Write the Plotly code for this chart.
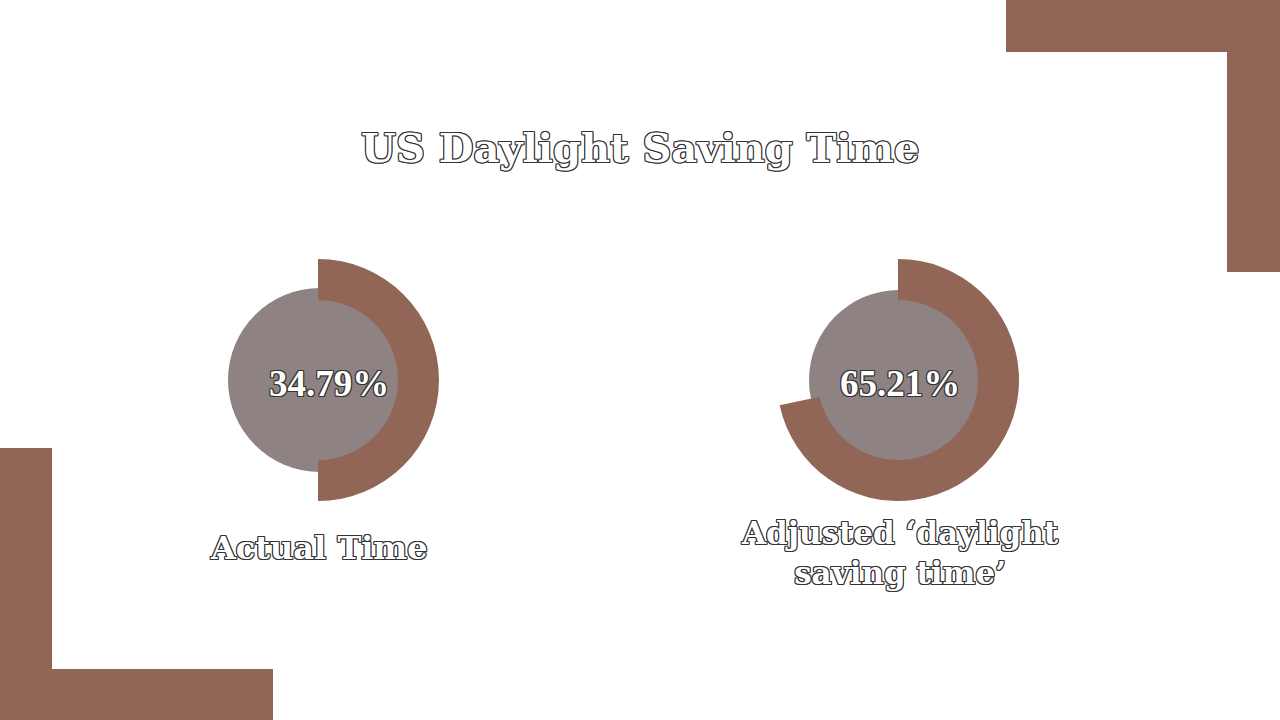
import plotly.graph_objects as go

# Data
chart_labels = ["Actual Time", "Adjusted ‘daylight<br>saving time’"]
percent_values = [34.79, 65.21]
percent_text = ["34.79%", "65.21%"]
arc_sweep_deg = [180, 258]   # arc length as drawn in the reference (degrees)
title_text = "US Daylight Saving Time"

BROWN = "#926656"
GREY = "#8e8283"
W, H = 1280, 720
OUTLINE = ("1px 1px 0 #333, -1px -1px 0 #333, 1px -1px 0 #333, -1px 1px 0 #333, "
           "0 1px 0 #333, 0 -1px 0 #333, 1px 0 0 #333, -1px 0 0 #333")

centers = [(318, 380), (898, 380)]
grey_centers = [(320, 380), (899, 380)]
grey_radius = [92, 90]
text_x = [329, 900]
R_OUT, R_IN = 121, 80

def dom(cx, cy, r):
    return dict(x=[(cx - r) / W, (cx + r) / W],
                y=[(H - cy - r) / H, (H - cy + r) / H])

fig = go.Figure()
annotations = []
for i, (cx, cy) in enumerate(centers):
    gx, gy = grey_centers[i]
    fig.add_trace(go.Pie(values=[1], domain=dom(gx, gy, grey_radius[i]), sort=False,
                         marker=dict(colors=[GREY], line=dict(width=0)),
                         textinfo="none", hoverinfo="skip", showlegend=False))
    fig.add_trace(go.Pie(values=[arc_sweep_deg[i], 360 - arc_sweep_deg[i]],
                         customdata=[percent_values[i], None],
                         domain=dom(cx, cy, R_OUT), hole=R_IN / R_OUT,
                         sort=False, direction="clockwise", rotation=0,
                         marker=dict(colors=[BROWN, "rgba(0,0,0,0)"], line=dict(width=0)),
                         textinfo="none", hoverinfo="skip", showlegend=False))
    annotations.append(dict(text="<b>" + percent_text[i] + "</b>", x=text_x[i] / W, y=1 - 383 / H,
                            xref="paper", yref="paper", showarrow=False,
                            xanchor="center", yanchor="middle",
                            font=dict(family="Liberation Serif", size=37, color="white",
                                      shadow=OUTLINE)))

annotations.append(dict(text="<b>" + chart_labels[0] + "</b>", x=319 / W, y=1 - 548 / H,
                        xref="paper", yref="paper",
                        showarrow=False, xanchor="center", yanchor="middle",
                        font=dict(family="DejaVu Serif", size=32, color="white", shadow=OUTLINE)))
annotations.append(dict(text="<b>" + chart_labels[1] + "</b>", x=900 / W, y=1 - 553 / H,
                        xref="paper", yref="paper",
                        showarrow=False, xanchor="center", yanchor="middle",
                        font=dict(family="DejaVu Serif", size=31, color="white", shadow=OUTLINE)))
annotations.append(dict(text="<b>" + title_text + "</b>", x=640 / W, y=1 - 148 / H,
                        xref="paper", yref="paper",
                        showarrow=False, xanchor="center", yanchor="middle",
                        font=dict(family="DejaVu Serif", size=40, color="white", shadow=OUTLINE)))

def rect(x0, y0, x1, y1):
    return dict(type="rect", xref="paper", yref="paper", layer="below",
                x0=x0 / W, x1=x1 / W, y0=1 - y1 / H, y1=1 - y0 / H,
                fillcolor=BROWN, line=dict(width=0))

shapes = [rect(1006, 0, 1280, 52), rect(1227, 0, 1280, 272),
          rect(0, 448, 52, 720), rect(0, 669, 273, 720)]

fig.update_layout(width=W, height=H, margin=dict(l=0, r=0, t=0, b=0),
                  paper_bgcolor="white", plot_bgcolor="white",
                  annotations=annotations, shapes=shapes, showlegend=False)

fig.write_html("out.html", config={"displayModeBar": False},
               post_script="document.body.style.margin='0';document.body.style.overflow='hidden';")
